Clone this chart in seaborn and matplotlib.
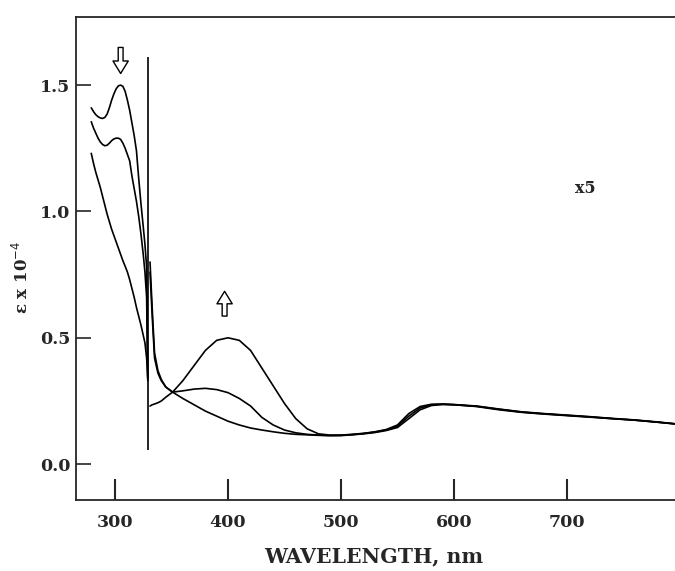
import numpy as np
import pandas as pd
import matplotlib
matplotlib.use("Agg")
import matplotlib.pyplot as plt
import seaborn as sns

##Spectra (epsilon x 10^-4)
#UV part, below the break at ~330 nm
wl_uv = [279, 281, 283, 285, 287, 289, 291, 293, 295, 297, 299, 301, 303, 305, 307, 309, 311, 313,
         315, 317, 319, 321, 323, 325, 326.5, 328, 329]
uv_top = [1.41, 1.395, 1.383, 1.375, 1.37, 1.368, 1.372, 1.385, 1.41, 1.44, 1.465, 1.485, 1.497, 1.50, 1.495, 1.475, 1.44, 1.40,
          1.35, 1.30, 1.24, 1.13, 1.03, 0.94, 0.87, 0.78, 0.34]
uv_mid = [1.355, 1.33, 1.31, 1.29, 1.275, 1.265, 1.26, 1.262, 1.27, 1.28, 1.287, 1.29, 1.29, 1.285, 1.27, 1.25, 1.225, 1.20,
          1.14, 1.09, 1.04, 0.98, 0.91, 0.83, 0.76, 0.66, 0.33]
uv_low = [1.23, 1.19, 1.155, 1.125, 1.095, 1.06, 1.025, 0.99, 0.96, 0.93, 0.905, 0.88, 0.855, 0.83, 0.805, 0.783, 0.76, 0.73,
          0.695, 0.66, 0.62, 0.585, 0.55, 0.51, 0.48, 0.42, 0.34]

#visible part (x5), above the break
wl_vis = [331, 333, 335, 338, 341, 345, 351, 360, 370, 380, 390, 400, 410, 420, 430, 440, 450, 460, 470,
          480, 490, 500, 510, 520, 530, 540, 550, 560, 570, 580, 590, 600, 620, 640, 660, 680, 700,
          720, 740, 760, 780, 795]
vis_a = [0.23, 0.235, 0.238, 0.243, 0.25, 0.265, 0.285, 0.33, 0.39, 0.45, 0.49, 0.50, 0.49, 0.45, 0.38, 0.31, 0.24, 0.18, 0.14,
         0.12, 0.115, 0.115, 0.118, 0.122, 0.128, 0.137, 0.155, 0.20, 0.228, 0.237, 0.238, 0.235, 0.228, 0.215, 0.205, 0.198, 0.192,
         0.186, 0.180, 0.174, 0.166, 0.16]
vis_b = [0.76, 0.58, 0.42, 0.36, 0.33, 0.305, 0.285, 0.29, 0.297, 0.30, 0.295, 0.283, 0.26, 0.23, 0.185, 0.155, 0.135, 0.124, 0.118,
         0.115, 0.113, 0.114, 0.117, 0.121, 0.127, 0.135, 0.15, 0.19, 0.222, 0.235, 0.237, 0.236, 0.23, 0.218, 0.207, 0.2, 0.194,
         0.188, 0.181, 0.175, 0.167, 0.16]
vis_c = [0.80, 0.61, 0.44, 0.37, 0.335, 0.305, 0.285, 0.26, 0.235, 0.21, 0.19, 0.17, 0.155, 0.143, 0.135, 0.128, 0.122, 0.118, 0.116,
         0.114, 0.113, 0.113, 0.116, 0.12, 0.125, 0.133, 0.145, 0.18, 0.215, 0.232, 0.236, 0.235, 0.229, 0.217, 0.206, 0.199, 0.193,
         0.187, 0.18, 0.174, 0.166, 0.159]

#break marker
break_wl = 329.5
break_lo, break_hi = 0.055, 1.61

x_ticks = [300, 400, 500, 600, 700]
y_ticks = [0.0, 0.5, 1.0, 1.5]

sns.set_style("ticks")
plt.rcParams['font.family'] = ['DejaVu Serif']

fig = plt.figure(figsize=(6.75, 5.71), dpi=100)
ax = fig.add_axes([0.1126, 0.1243, 0.95, 0.8457])

for ys in [uv_top, uv_mid, uv_low]:
    sns.lineplot(x=wl_uv, y=ys, color='black', lw=1.2, ax=ax)
for ys in [vis_a, vis_b, vis_c]:
    sns.lineplot(x=wl_vis, y=ys, color='black', lw=1.2, ax=ax)
ax.vlines(break_wl, break_lo, break_hi, color='black', lw=1.2)

#hollow arrows
arw = dict(arrowstyle='simple,head_length=0.9,head_width=1.1,tail_width=0.35', fc='white', ec='black', lw=1.0)
ax.annotate('', xy=(305, 1.535), xytext=(305, 1.66), arrowprops=arw)
ax.annotate('', xy=(397, 0.695), xytext=(397, 0.575), arrowprops=arw)

ax.text(0.795, 0.646, 'x5', transform=ax.transAxes, fontsize=11.5, fontweight='bold', ha='center', va='center')

ax.set_xlim(265.5, 795.6 + (0.95 - 0.8874) / 0.8874 * 530)
ax.set_ylim(-0.142, 1.769)
ax.set_xticks(x_ticks)
ax.set_yticks(y_ticks)
ax.set_yticklabels([f"{v:.1f}" for v in y_ticks])
ax.tick_params(axis='x', direction='in', length=15, width=1.5, pad=10, labelsize=12.5)
ax.tick_params(axis='y', direction='in', length=11, width=1.2, pad=4, labelsize=12.5)
for lab in ax.get_xticklabels() + ax.get_yticklabels():
    lab.set_fontweight('bold')

ax.spines['right'].set_visible(False)
for s in ['left', 'top', 'bottom']:
    ax.spines[s].set_linewidth(1.3)

ax.set_xlabel('WAVELENGTH, nm', fontsize=14.7, fontweight='bold', labelpad=14)
ax.xaxis.set_label_coords(0.465, -0.095)
ax.set_ylabel(r'ε x 10$^{-4}$', fontsize=12, fontweight='bold')
ax.yaxis.set_label_coords(-0.069, 0.462)

plt.savefig('out.png', dpi=100)
